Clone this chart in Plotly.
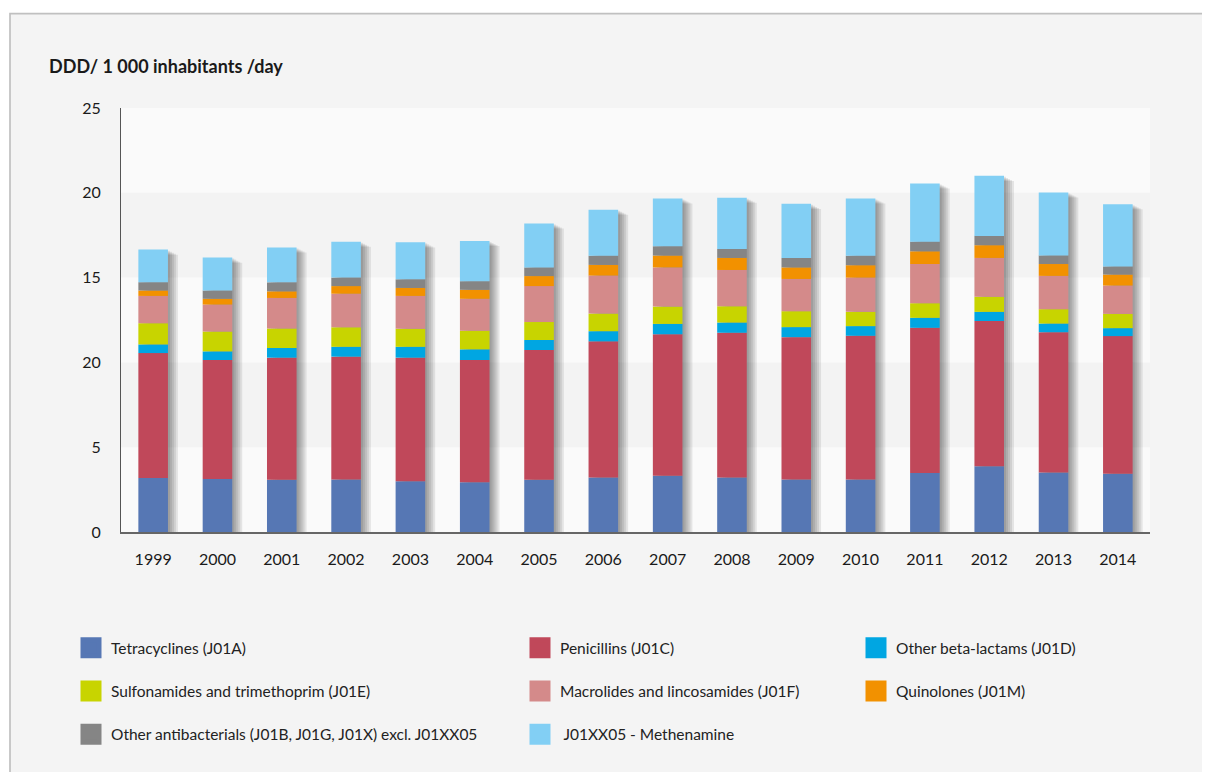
import numpy as np
import plotly.graph_objects as go

years = [str(y) for y in range(1999, 2015)]

series_names = [
    "Tetracyclines (J01A)",
    "Penicillins (J01C)",
    "Other beta-lactams (J01D)",
    "Sulfonamides and trimethoprim (J01E)",
    "Macrolides and lincosamides (J01F)",
    "Quinolones (J01M)",
    "Other antibacterials (J01B, J01G, J01X) excl. J01XX05",
    " J01XX05 - Methenamine",
]

tetracyclines = [3.18, 3.12, 3.08, 3.10, 2.99, 2.94, 3.08, 3.22, 3.32, 3.22, 3.09, 3.10, 3.48, 3.87, 3.51, 3.43]
penicillins = [7.37, 7.02, 7.20, 7.24, 7.29, 7.20, 7.65, 8.02, 8.34, 8.53, 8.40, 8.47, 8.56, 8.57, 8.27, 8.12]
other_beta_lactams = [0.51, 0.51, 0.57, 0.58, 0.64, 0.63, 0.59, 0.60, 0.61, 0.60, 0.59, 0.57, 0.59, 0.54, 0.51, 0.47]
sulfonamides = [1.25, 1.17, 1.15, 1.15, 1.06, 1.10, 1.06, 1.04, 1.02, 0.96, 0.94, 0.84, 0.86, 0.89, 0.85, 0.84]
macrolides = [1.61, 1.59, 1.80, 1.98, 1.94, 1.88, 2.12, 2.24, 2.31, 2.14, 1.90, 2.02, 2.31, 2.29, 1.96, 1.67]
quinolones = [0.32, 0.34, 0.39, 0.45, 0.47, 0.53, 0.59, 0.63, 0.70, 0.71, 0.68, 0.73, 0.75, 0.75, 0.70, 0.65]
other_antibacterials = [0.49, 0.49, 0.53, 0.50, 0.51, 0.51, 0.51, 0.54, 0.55, 0.53, 0.56, 0.56, 0.57, 0.55, 0.51, 0.48]
methenamine = [1.92, 1.94, 2.06, 2.12, 2.18, 2.37, 2.59, 2.71, 2.82, 3.02, 3.19, 3.38, 3.43, 3.54, 3.71, 3.67]

y_tick_values = [0, 5, 10, 15, 20, 25]
y_tick_labels = ["0", "5", "20", "15", "20", "25"]

colors = ["#5677b4", "#c0485a", "#00a6e2", "#c8d400", "#d48a8a", "#f29100", "#858585", "#82cff4"]
legend_of = ["legend", "legend2", "legend3", "legend", "legend2", "legend3", "legend", "legend2"]

series = [tetracyclines, penicillins, other_beta_lactams, sulfonamides,
          macrolides, quinolones, other_antibacterials, methenamine]

FONT = "Lato, 'Open Sans', sans-serif"
BAR_W = 0.46
PX = 1 / 64.3  # one pixel in category units

# figure is placed by the page with an 8px body margin
W, H = 1202, 764
L, R, T, B = 113, 60, 99.5, 239.5
PW = W - L - R
PH = H - T - B


def px_to_paper_x(px):
    return (px - L) / PW


def px_to_paper_y(py):
    return (H - B - py) / PH


fig = go.Figure()

# soft drop shadows behind the stacked bars
totals = np.sum(np.array(series), axis=0)
for i, dx in enumerate([10, 8, 6, 4, 2]):
    fig.add_trace(go.Bar(
        x=years, y=totals - 0.06 * (5 - i), base=0, width=BAR_W, offset=-BAR_W / 2 + dx * PX,
        marker=dict(color="rgba(0,0,0,0.085)", line=dict(width=0)),
        showlegend=False, hoverinfo="skip",
    ))

base = np.zeros(len(years))
for name, vals, col in zip(series_names, series, colors):
    fig.add_trace(go.Bar(
        x=years, y=vals, base=base.copy(), name=name, width=BAR_W,
        marker=dict(color=col, line=dict(width=0)), showlegend=False,
    ))
    base = base + np.array(vals)

# legend entries
for name, col, lg in zip(series_names, colors, legend_of):
    fig.add_trace(go.Scatter(
        x=[None], y=[None], mode="markers", name=name, legend=lg,
        legendgroup=name,
        marker=dict(symbol="square", size=16, color=col, line=dict(color=col, width=5)),
    ))

legend_common = dict(
    orientation="v", yanchor="top", xanchor="left", y=px_to_paper_y(632 - 8),
    bgcolor="rgba(0,0,0,0)", font=dict(family=FONT, size=15.5, color="#222222"),
    itemsizing="trace", tracegroupgap=20, traceorder="grouped",
)

fig.update_layout(
    width=W, height=H,
    barmode="overlay",
    paper_bgcolor="#ffffff",
    plot_bgcolor="#fafafa",
    margin=dict(l=L, r=R, t=T, b=B, autoexpand=False),
    font=dict(family=FONT, size=16, color="#1a1a1a"),
    title=dict(text="<b>DDD/ 1 000 inhabitants /day</b>", xref="container", yref="container",
               x=(49 - 8) / W, y=1 - (67 - 8) / H, xanchor="left", yanchor="middle",
               font=dict(family=FONT, size=18, color="#1a1a1a")),
    xaxis=dict(type="category", showgrid=False, showline=True, linecolor="#666666", linewidth=1.5,
               ticks="", ticklabelstandoff=12, tickfont=dict(family=FONT, size=16, color="#1a1a1a"),
               fixedrange=True),
    yaxis=dict(range=[0, 25], tickvals=y_tick_values, ticktext=y_tick_labels, showgrid=False,
               zeroline=False, showline=True, linecolor="#555555", linewidth=1, ticks="",
               ticklabelstandoff=16, tickfont=dict(family=FONT, size=16, color="#1a1a1a")),
    legend=dict(x=px_to_paper_x(71 - 8), **legend_common),
    legend2=dict(x=px_to_paper_x(520 - 8), **legend_common),
    legend3=dict(x=px_to_paper_x(856 - 8), **legend_common),
    shapes=[
        dict(type="rect", xref="paper", yref="paper",
             x0=px_to_paper_x(10 - 8), x1=px_to_paper_x(W + 20),
             y0=px_to_paper_y(H + 20), y1=px_to_paper_y(13 - 8), fillcolor="#f4f4f4",
             line=dict(color="#c0c0c0", width=1.7), layer="below"),
        dict(type="rect", xref="paper", yref="paper", x0=0, x1=1, y0=0, y1=1,
             fillcolor="#fafafa", line=dict(width=0), layer="below"),
        dict(type="rect", xref="paper", yref="y", x0=0, x1=1, y0=5, y1=10,
             fillcolor="#f3f3f3", line=dict(width=0), layer="below"),
        dict(type="rect", xref="paper", yref="y", x0=0, x1=1, y0=15, y1=20,
             fillcolor="#f3f3f3", line=dict(width=0), layer="below"),
    ],
)

fig.write_html("out.html")
